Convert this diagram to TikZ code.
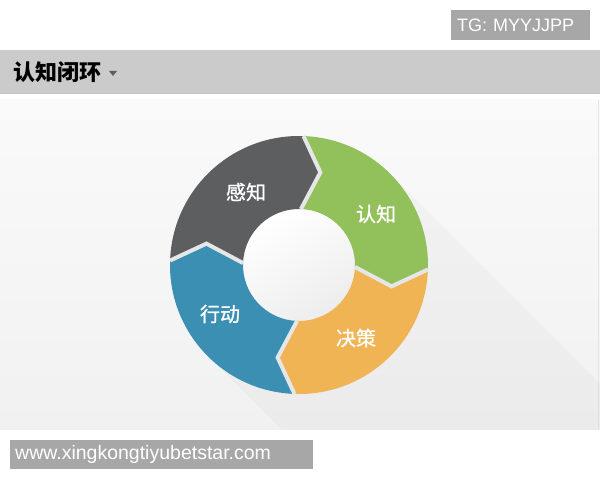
\documentclass[tikz,border=0pt]{standalone}
\usepackage{fontspec}
\setmainfont{Liberation Sans}
\newfontfamily\cjk{Noto Sans CJK SC}
\newfontfamily\cjkmed[FakeBold=1]{Noto Sans CJK SC}
\usetikzlibrary{positioning}

\definecolor{darkseg}{HTML}{5D5E60}
\definecolor{greenseg}{HTML}{92C05A}
\definecolor{orangeseg}{HTML}{F0B455}
\definecolor{blueseg}{HTML}{3B8FB2}
\definecolor{gapgray}{HTML}{E4E6E8}
\definecolor{bargray}{HTML}{CBCBCB}
\definecolor{barline}{HTML}{C2C2C2}
\definecolor{tagbox}{HTML}{A7A7A7}
\definecolor{paneltop}{HTML}{FAFAFA}
\definecolor{panelbot}{HTML}{F1F1F1}
\definecolor{innergray}{HTML}{EDEDED}

\begin{document}
\begin{tikzpicture}[x=1pt, y=1pt,
    gap/.style={draw=gapgray, line width=4pt, line join=miter},
    seglabel/.style={text=white, font=\cjkmed\fontsize{20}{24}\selectfont},
    tag/.style={fill=tagbox, text=white, font=\fontsize{18}{22}\selectfont, anchor=north west, align=left, inner ysep=0pt}
]
\useasboundingbox (0,0) rectangle (600,480);
\fill[white] (0,0) rectangle (600,480);

% Header
\node[tag, minimum height=30pt, text width=127pt, inner xsep=6pt] (tg) at (451,470) {TG: MYYJJPP};
\fill[bargray] (0,386) rectangle (600,430);
\draw[barline, line width=1pt] (0,386) -- (600,386);
\node[anchor=west, inner sep=0pt, font=\cjk\bfseries\fontsize{22}{26}\selectfont] (title) at (13,408) {认知闭环};
\fill[darkseg] (109,409) -- (117,409) -- (113,404) -- cycle;

% Panel
\shade[top color=paneltop, bottom color=panelbot] (0,51) rectangle (600,380);
\draw[gapgray, line width=1pt] (598.5,51) -- (598.5,380);
\begin{scope}
\clip (0,51) rectangle (600,380);
\fill[black, opacity=0.025, shift={(299,215)}] (45:129) -- ++(-45:500) -- ++(-135:258) -- (-135:129) -- cycle;
\end{scope}

% Ring
\begin{scope}[shift={(299,215)}]
\shade[top color=white, bottom color=innergray, shading angle=30] (0,0) circle (56);
\fill[darkseg] (178:129) arc[start angle=178, end angle=88, radius=129] -- (77:95) -- (88:56) arc[start angle=88, end angle=178, radius=56] -- (167:95) -- cycle;
\fill[greenseg] (88:129) arc[start angle=88, end angle=-2, radius=129] -- (-13:95) -- (-2:56) arc[start angle=-2, end angle=88, radius=56] -- (77:95) -- cycle;
\fill[orangeseg] (-2:129) arc[start angle=-2, end angle=-92, radius=129] -- (-103:95) -- (-92:56) arc[start angle=-92, end angle=-2, radius=56] -- (-13:95) -- cycle;
\fill[blueseg] (-92:129) arc[start angle=-92, end angle=-182, radius=129] -- (-193:95) -- (-182:56) arc[start angle=-182, end angle=-92, radius=56] -- (-103:95) -- cycle;

% Gaps
\draw[gap] (88:129) -- (77:95) -- (88:56);
\draw[gap] (-2:129) -- (-13:95) -- (-2:56);
\draw[gap] (-92:129) -- (-103:95) -- (-92:56);
\draw[gap] (178:129) -- (167:95) -- (178:56);

% Labels
\node[seglabel] (perceive) at (-53,73) {感知};
\node[seglabel] (cognize) at (77,51) {认知};
\node[seglabel] (decide) at (57,-73) {决策};
\node[seglabel] (act) at (-79,-49) {行动};
\end{scope}

% Footer
\node[tag, font=\fontsize{19.5}{23}\selectfont, minimum height=29pt, text width=293pt, inner xsep=5pt] (site) at (10,40) {www.xingkongtiyubetstar.com};

\end{tikzpicture}
\end{document}
